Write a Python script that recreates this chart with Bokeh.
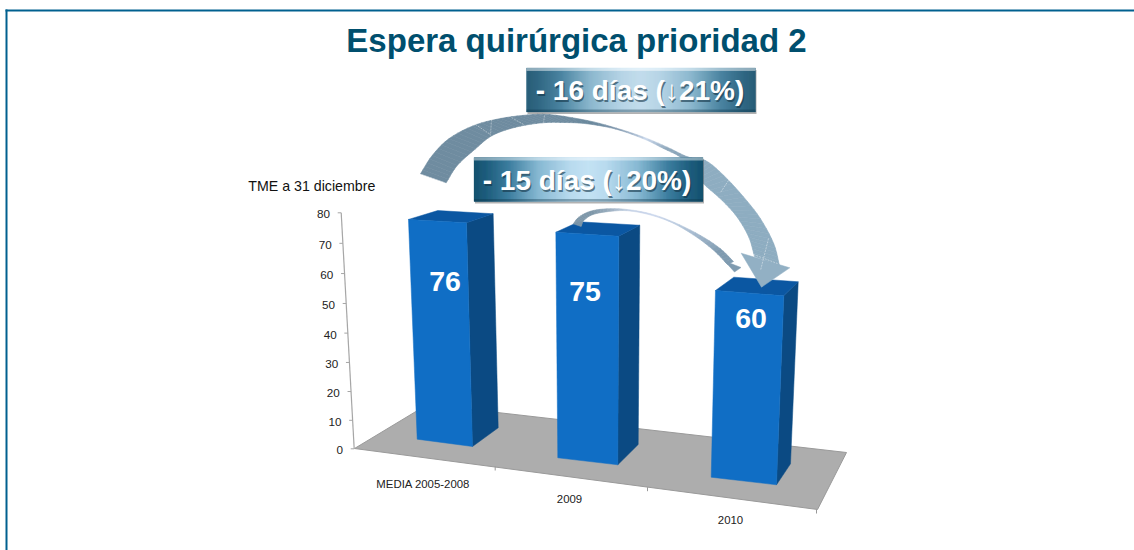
import numpy as np
from bokeh.plotting import figure
from bokeh.models import Range1d
from bokeh.core.properties import value
from bokeh.embed import file_html
from bokeh.resources import INLINE

# ---- data ----
title_text = "Espera quirúrgica prioridad 2"
axis_title = "TME a 31 diciembre"
categories = ["MEDIA 2005-2008", "2009", "2010"]
values = [76, 75, 60]
y_ticks = [0, 10, 20, 30, 40, 50, 60, 70, 80]
banner_texts = ["- 16 días (↓21%)", "- 15 días (↓20%)"]

# ---- colours ----
BORDER = "#00608F"
TITLE = "#004F6E"
FRONT, SIDE, TOP = "#106EC5", "#0B4A83", "#0B57A2"
FLOOR = "#ADADAD"
FONT = value("Liberation Sans")

p = figure(width=1134, height=550, output_backend="svg", toolbar_location=None,
           x_range=Range1d(0, 1134), y_range=Range1d(550, 0),
           min_border=0, outline_line_color=None)
p.axis.visible = False
p.grid.visible = False
p.background_fill_color = "white"

# ---- frame of the slide ----
p.quad(left=[5, 5], right=[7, 1134], top=[9, 9], bottom=[550, 11],
       fill_color=BORDER, line_color=None)

# ---- projected geometry of the 3D chart ----
def persp(v):
    t = v / 80
    return t / (t + (1 - t) * 1.04)

AX0, AX1 = (353.7, 448.3), (340.7, 212.3)
def axis_pt(v):
    f = persp(v)
    return AX0[0] + (AX1[0] - AX0[0]) * f, AX0[1] + (AX1[1] - AX0[1]) * f

# floor
p.patch([354, 427, 846, 817], [448, 404, 452, 509], fill_color=FLOOR,
        line_color="#9A9A9A", line_width=1)

# y axis
p.line([AX0[0], AX1[0]], [AX0[1], AX1[1]], line_color="#A6A6A6", line_width=1.2)
for v in y_ticks:
    x, y = axis_pt(v)
    p.segment([x - 3.5], [y], [x], [y], line_color="#A6A6A6", line_width=1)
    p.text([x - 11.2], [y + 1.6], text=[str(v)], text_font=FONT, text_font_size="11.7px",
           text_align="right", text_baseline="middle", text_color="#222222")

# category ticks and labels
cat_tick = [(494.7, 466), (647, 486.7), (816, 509)]
cat_xy = [(422.7, 483), (569, 498), (730, 519.3)]
for (x, y) in cat_tick:
    p.segment([x], [y], [x], [y + 4], line_color="#999999", line_width=1)
for c, (x, y) in zip(categories, cat_xy):
    p.text([x], [y], text=[c], text_font=FONT, text_font_size="11.4px", text_align="center",
           text_baseline="middle", text_color="#222222")

# bars: corner at the base and where that corner would reach at the value 80
bar_base = [
    {"FL": (416.7, 438.7), "FR": (472, 446), "BR": (497.7, 427.3), "BL": (442.4, 420)},
    {"FL": (557.3, 457.3), "FR": (617.3, 464.3), "BR": (637.7, 444), "BL": (577.7, 437)},
    {"FL": (710.7, 476.7), "FR": (776, 484.3), "BR": (790, 463.3), "BL": (724.7, 455.7)},
]
bar_top80 = [
    {"FL": (407.5, 207.4), "FR": (465.7, 210.5), "BR": (492.4, 202), "BL": (437, 199)},
    {"FL": (555.2, 216.7), "FR": (618.4, 220.5), "BR": (639.4, 210.1), "BL": (578.3, 206.9)},
    {"FL": (716.4, 227.8), "FR": (785.7, 232.3), "BR": (800.3, 220.6), "BL": (736.2, 217)},
]
label_xy = [(444.5, 281), (584.5, 291), (750.5, 318)]
for v, b, t, (lx, ly) in zip(values, bar_base, bar_top80, label_xy):
    up = {k: (b[k][0] + (t[k][0] - b[k][0]) * v / 80, b[k][1] + (t[k][1] - b[k][1]) * v / 80) for k in b}
    faces = [
        ([b["FR"], b["BR"], up["BR"], up["FR"]], SIDE),
        ([up["FL"], up["FR"], up["BR"], up["BL"]], TOP),
        ([b["FL"], b["FR"], up["FR"], up["FL"]], FRONT),
    ]
    for pts, col in faces:
        p.patch([q[0] for q in pts], [q[1] for q in pts], fill_color=col, line_color=col, line_width=0.5)
    p.text([lx], [ly], text=[str(v)], text_font=FONT, text_font_style="bold",
           text_font_size="28.5px", text_align="center", text_baseline="middle", text_color="white")

# ---- curved arrows, drawn as ribbons with a colour per station ----
def hex2rgb(h):
    return np.array([int(h[i:i + 2], 16) for i in (1, 3, 5)], float)

def rgb2hex(c):
    return "#%02x%02x%02x" % tuple(int(round(x)) for x in c)

def spline(pts, n=5):
    pts = np.array(pts, float)
    ext = np.vstack([2 * pts[0] - pts[1], pts, 2 * pts[-1] - pts[-2]])
    out = []
    for i in range(1, len(ext) - 2):
        p0, p1, p2, p3 = ext[i - 1], ext[i], ext[i + 1], ext[i + 2]
        for s in np.linspace(0, 1, n, endpoint=False):
            out.append(0.5 * (2 * p1 + (p2 - p0) * s + (2 * p0 - 5 * p1 + 4 * p2 - p3) * s**2
                              + (3 * p1 - p0 - 3 * p2 + p3) * s**3))
    out.append(pts[-1])
    return np.array(out)

def ribbon(outer, inner, cols, head, head_col, n=5):
    o, i = spline(outer, n), spline(inner, n)
    rgb = [hex2rgb(c) for c in cols]
    idx = np.linspace(0, len(rgb) - 1, len(o))
    shade = [np.array([np.interp(k, range(len(rgb)), [c[j] for c in rgb]) for j in range(3)]) for k in idx]
    xs, ys, fc = [], [], []
    for k in range(len(o) - 1):
        xs.append([o[k][0], o[k + 1][0], i[k + 1][0], i[k][0]])
        ys.append([o[k][1], o[k + 1][1], i[k + 1][1], i[k][1]])
        fc.append(rgb2hex(shade[k]))
    p.patches(xs, ys, fill_color=fc, line_color=fc, line_width=0.6)
    p.patch([q[0] for q in head], [q[1] for q in head], fill_color=head_col, line_color=head_col, line_width=0.5)

big_outer = [(420, 173.3), (431.7, 155), (448.3, 138.3), (471.7, 125.7), (495, 119), (521.7, 115), (548.3, 114),
             (586.7, 120), (616, 127.7), (643.3, 136.7), (666.7, 146.7), (688, 156.7), (705, 160),
             (723.3, 175), (743.3, 196.7), (760, 218.3), (773.3, 243.3), (779, 265)]
big_inner = [(445.7, 182.3), (456.7, 165), (475, 148.3), (491.7, 135), (515, 126.7), (541.7, 122.3), (565, 122),
             (586.7, 123.3), (615, 128.5), (643, 138.3), (663, 148), (680, 156.7), (692, 170),
             (702.7, 183), (721.7, 200), (736.7, 216.7), (748.3, 236.7), (754, 256)]
big_cols = ["#6F8CA0"] * 7 + ["#6A889C", "#7F97AE", "#C8D6EA", "#8FA8BC", "#86A3B7"] + ["#8EADC1"] * 6
ribbon(big_outer, big_inner, big_cols, [(789.3, 267.3), (761, 286.7), (740.7, 252.7)], "#92B0C4")

# faint stitched lines over the big arrow
for (x0, y0, x1, y1) in [(421, 174, 444, 182), (475, 124, 490, 134), (491, 119, 490, 135), (511, 117, 523, 124),
                         (544, 115, 543, 122), (768, 238, 760, 270), (753, 254, 777, 263), (728, 180, 720, 192)]:
    p.line([x0, x1], [y0, y1], line_color="white", line_alpha=0.5, line_width=0.8, line_dash="2 1")

small_outer = [(572.7, 223.3), (578.3, 216.7), (590, 210.7), (606.7, 208.3), (626.7, 209), (650, 213.3),
               (673.3, 221.7), (700, 235), (720, 248.3), (733, 261)]
small_inner = [(580.7, 226), (583.3, 220), (591.7, 214.3), (606.7, 211.2), (626.7, 210.2), (650, 214.5),
               (673.3, 223), (696.7, 237), (714.5, 251), (727, 264)]
small_cols = ["#7E97A9", "#7E97A9", "#7E97A9", "#9AAEBF", "#C5D2E6", "#CAD6EC", "#BCCCE0", "#9DB3C8", "#7F9BB0", "#7F9BB0"]
ribbon(small_outer, small_inner, small_cols, [(740.5, 267), (734, 271.5), (724, 260.5)], "#7F9BB0")

# ---- banners ----
stops_t = [0, 0.05, 0.15, 0.28, 0.42, 0.5, 0.58, 0.72, 0.85, 0.95, 1]
stops_c = ["#15526F", "#1D5C7C", "#3C7D9E", "#86B8D2", "#B8DAEE", "#C4E2F4", "#B8DAEE", "#86B8D2", "#3C7D9E", "#1D5C7C", "#15526F"]
stops_rgb = np.array([hex2rgb(c) for c in stops_c])

banners = [((526, 67.5, 755, 111.5), (639.5, 90)), ((473.5, 157, 702.5, 201), (586.5, 180))]
for txt, ((x0, y0, x1, y1), (tx, ty)) in zip(banner_texts, banners):
    p.quad(left=[x0 + 1], right=[x1 + 1], top=[y0 + 2], bottom=[y1 + 2],
           fill_color="#555555", fill_alpha=0.45, line_color=None)
    ls = np.arange(x0, x1, 1.0)
    t = (ls - x0 + 0.5) / (x1 - x0)
    cols = [rgb2hex([np.interp(a, stops_t, stops_rgb[:, j]) for j in range(3)]) for a in t]
    p.quad(left=ls, right=ls + 1.0, top=y0, bottom=y1, fill_color=cols, line_color=cols, line_width=0.3)
    p.quad(left=[x0], right=[x1], top=[y0], bottom=[y0 + 3], fill_color="white", fill_alpha=0.45, line_color=None)
    p.quad(left=[x0], right=[x1], top=[y1 - 2.5], bottom=[y1], fill_color="#0A3044", fill_alpha=0.35, line_color=None)
    p.text([tx + 1.2], [ty + 1.6], text=[txt], text_font=FONT, text_font_style="bold", text_font_size="28px",
           text_align="center", text_baseline="middle", text_color="#143446", text_alpha=0.6)
    p.text([tx], [ty], text=[txt], text_font=FONT, text_font_style="bold", text_font_size="28px",
           text_align="center", text_baseline="middle", text_color="white")

# ---- texts ----
p.text([576], [39.5], text=[title_text], text_font=FONT, text_font_style="bold", text_font_size="33px",
       text_align="center", text_baseline="middle", text_color=TITLE)
p.text([311.3], [185], text=[axis_title], text_font=FONT, text_font_size="14.2px",
       text_align="center", text_baseline="middle", text_color="#111111")

open("out.html", "w").write(file_html(p, INLINE))
